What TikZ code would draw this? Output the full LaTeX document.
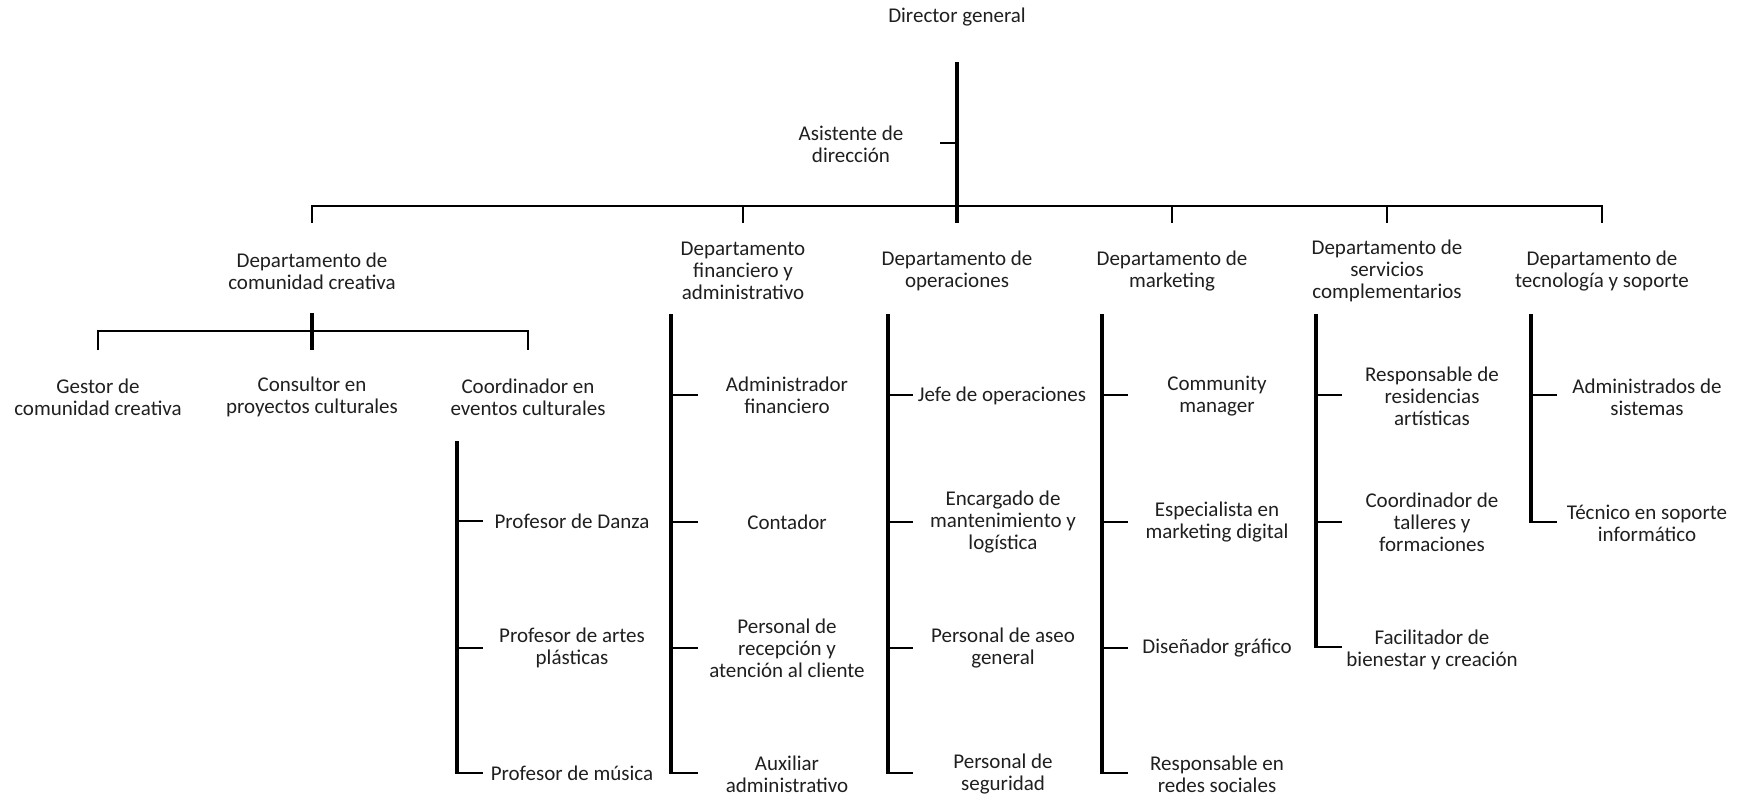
\documentclass[tikz,border=0pt]{standalone}
\usepackage{fontspec}
\setmainfont{Carlito}
\begin{document}
\begin{tikzpicture}[x=1pt,y=-1pt,
  lbl/.style={align=center,inner sep=0pt,font=\fontsize{21}{22}\selectfont,text=black!88},
  vline/.style={line width=3.2pt},
  hline/.style={line width=2.4pt,line join=miter},
  tick/.style={line width=2.2pt}]
\useasboundingbox (0,0) rectangle (1743,797);

% ---------- top ----------
\node[lbl] (dg) at (957,17) {Director general};
\node[lbl] (asis) at (851,144) {Asistente de\\dirección};
\coordinate (dgT) at (957,62);
\coordinate (dgB) at (957,223);
\coordinate (asJ) at (957,143);
\coordinate (asE) at (940,143);
\draw[vline] (dgT) -- (dgB);
\draw[tick] (asJ) -- (asE);

% ---------- departments ----------
\node[lbl] (d1) at (312,271) {Departamento de\\comunidad creativa};
\node[lbl] (d2) at (743,271) {Departamento\\financiero y\\administrativo};
\node[lbl] (d3) at (957,271) {Departamento de\\operaciones};
\node[lbl] (d4) at (1172,271) {Departamento de\\marketing};
\node[lbl] (d5) at (1387,271) {Departamento de\\servicios\\complementarios};
\node[lbl] (d6) at (1602,271) {Departamento de\\tecnología y soporte};

\coordinate (b1) at (312,206);
\coordinate (b2) at (743,206);
\coordinate (b4) at (1172,206);
\coordinate (b5) at (1387,206);
\coordinate (b6) at (1602,206);
\coordinate (t1) at (312,223);
\coordinate (t2) at (743,223);
\coordinate (t4) at (1172,223);
\coordinate (t5) at (1387,223);
\coordinate (t6) at (1602,223);
\draw[hline] (t1) -- (b1) -- (b6) -- (t6);
\draw[tick] (b2) -- (t2);
\draw[tick] (b4) -- (t4);
\draw[tick] (b5) -- (t5);

% ---------- comunidad creativa ----------
\node[lbl] (g1) at (98,397) {Gestor de\\comunidad creativa};
\node[lbl] (g2) at (312,397) {Consultor en\\proyectos culturales};
\node[lbl] (g3) at (528,397) {Coordinador en\\eventos culturales};
\coordinate (cT) at (312,313);
\coordinate (cB) at (312,350);
\coordinate (cL) at (98,331);
\coordinate (cR) at (528,331);
\coordinate (cLb) at (98,350);
\coordinate (cRb) at (528,350);
\draw[vline] (cT) -- (cB);
\draw[hline] (cLb) -- (cL) -- (cR) -- (cRb);

\node[lbl] (p1) at (572,521) {Profesor de Danza};
\node[lbl] (p2) at (572,648) {Profesor de artes\\plásticas};
\node[lbl] (p3) at (572,773) {Profesor de música};
\coordinate (pT) at (457,441);
\coordinate (pJ1) at (457,521);
\coordinate (pJ2) at (457,648);
\coordinate (pJ3) at (457,773);
\coordinate (pE1) at (483,521);
\coordinate (pE2) at (483,648);
\coordinate (pE3) at (483,773);
\draw[vline] (pT) -- ([yshift=-1.1pt]pJ3);
\draw[tick] (pJ1) -- (pE1);
\draw[tick] (pJ2) -- (pE2);
\draw[tick] ([xshift=-1.6pt]pJ3) -- (pE3);

% ---------- financiero ----------
\node[lbl] (f1) at (787,395) {Administrador\\financiero};
\node[lbl] (f2) at (787,522) {Contador};
\node[lbl] (f3) at (787,648) {Personal de\\recepción y\\atención al cliente};
\node[lbl] (f4) at (787,774) {Auxiliar\\administrativo};
\coordinate (fT) at (671,314);
\coordinate (fJ1) at (671,395);
\coordinate (fJ2) at (671,522);
\coordinate (fJ3) at (671,648);
\coordinate (fJ4) at (671,773);
\coordinate (fE1) at (698,395);
\coordinate (fE2) at (698,522);
\coordinate (fE3) at (698,648);
\coordinate (fE4) at (698,773);
\draw[vline] (fT) -- ([yshift=-1.1pt]fJ4);
\draw[tick] (fJ1) -- (fE1);
\draw[tick] (fJ2) -- (fE2);
\draw[tick] (fJ3) -- (fE3);
\draw[tick] ([xshift=-1.6pt]fJ4) -- (fE4);

% ---------- operaciones ----------
\node[lbl] (o1) at (1002,396) {Jefe de operaciones};
\node[lbl] (o2) at (1003,522) {Encargado de\\mantenimiento y\\logística};
\node[lbl] (o3) at (1003,648) {Personal de aseo\\general};
\node[lbl] (o4) at (1003,774) {Personal de\\seguridad};
\coordinate (oT) at (888,314);
\coordinate (oJ1) at (888,395);
\coordinate (oJ2) at (888,522);
\coordinate (oJ3) at (888,648);
\coordinate (oJ4) at (888,773);
\coordinate (oE1) at (913,395);
\coordinate (oE2) at (913,522);
\coordinate (oE3) at (913,648);
\coordinate (oE4) at (913,773);
\draw[vline] (oT) -- ([yshift=-1.1pt]oJ4);
\draw[tick] (oJ1) -- (oE1);
\draw[tick] (oJ2) -- (oE2);
\draw[tick] (oJ3) -- (oE3);
\draw[tick] ([xshift=-1.6pt]oJ4) -- (oE4);

% ---------- marketing ----------
\node[lbl] (m1) at (1217,396) {Community\\manager};
\node[lbl] (m2) at (1217,522) {Especialista en\\marketing digital};
\node[lbl] (m3) at (1217,648) {Diseñador gráfico};
\node[lbl] (m4) at (1217,774) {Responsable en\\redes sociales};
\coordinate (mT) at (1102,314);
\coordinate (mJ1) at (1102,395);
\coordinate (mJ2) at (1102,522);
\coordinate (mJ3) at (1102,648);
\coordinate (mJ4) at (1102,773);
\coordinate (mE1) at (1128,395);
\coordinate (mE2) at (1128,522);
\coordinate (mE3) at (1128,648);
\coordinate (mE4) at (1128,773);
\draw[vline] (mT) -- ([yshift=-1.1pt]mJ4);
\draw[tick] (mJ1) -- (mE1);
\draw[tick] (mJ2) -- (mE2);
\draw[tick] (mJ3) -- (mE3);
\draw[tick] ([xshift=-1.6pt]mJ4) -- (mE4);

% ---------- servicios ----------
\node[lbl] (s1) at (1432,396) {Responsable de\\residencias\\artísticas};
\node[lbl] (s2) at (1432,522) {Coordinador de\\talleres y\\formaciones};
\node[lbl] (s3) at (1432,650) {Facilitador de\\bienestar y creación};
\coordinate (sT) at (1316,314);
\coordinate (sJ1) at (1316,395);
\coordinate (sJ2) at (1316,522);
\coordinate (sJ3) at (1316,647);
\coordinate (sE1) at (1342,395);
\coordinate (sE2) at (1342,522);
\coordinate (sE3) at (1342,647);
\draw[vline] (sT) -- ([yshift=-1.1pt]sJ3);
\draw[tick] (sJ1) -- (sE1);
\draw[tick] (sJ2) -- (sE2);
\draw[tick] ([xshift=-1.6pt]sJ3) -- (sE3);

% ---------- tecnologia ----------
\node[lbl] (e1) at (1647,397) {Administrados de\\sistemas};
\node[lbl] (e2) at (1647,523) {Técnico en soporte\\informático};
\coordinate (eT) at (1531,314);
\coordinate (eJ1) at (1531,395);
\coordinate (eJ2) at (1531,522);
\coordinate (eE1) at (1557,395);
\coordinate (eE2) at (1557,522);
\draw[vline] (eT) -- ([yshift=-1.1pt]eJ2);
\draw[tick] (eJ1) -- (eE1);
\draw[tick] ([xshift=-1.6pt]eJ2) -- (eE2);
\end{tikzpicture}
\end{document}
